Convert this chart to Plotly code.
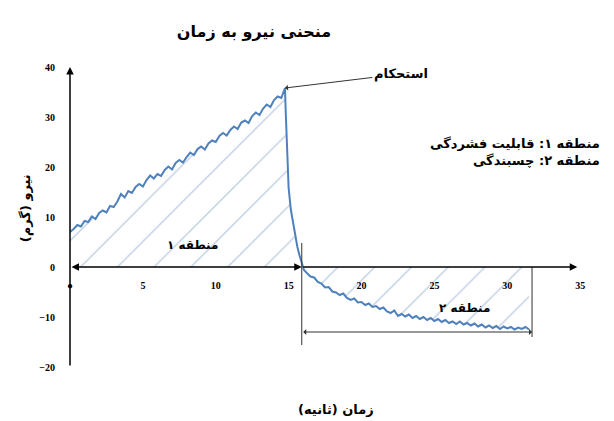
import plotly.graph_objects as go

# زمان (ثانیه) و نیرو (گرم)
time_s = [
    0, 0.25, 0.5, 0.75, 1.0, 1.25, 1.5, 1.75, 2.0, 2.25, 2.5, 2.75, 3.0, 3.25, 3.5, 3.75,
    4.0, 4.25, 4.5, 4.75, 5.0, 5.25, 5.5, 5.75, 6.0, 6.25, 6.5, 6.75, 7.0, 7.25, 7.5, 7.75,
    8.0, 8.25, 8.5, 8.75, 9.0, 9.25, 9.5, 9.75, 10.0, 10.25, 10.5, 10.75, 11.0, 11.25, 11.5,
    11.75, 12.0, 12.25, 12.5, 12.75, 13.0, 13.25, 13.5, 13.75, 14.0, 14.25, 14.5, 14.75,
    14.8, 14.9, 15.0, 15.15, 15.3, 15.45, 15.6, 15.75, 15.9, 16.05,
    16.25, 16.5, 16.75, 17.0, 17.25, 17.5, 17.75, 18.0, 18.25, 18.5, 18.75, 19.0, 19.25,
    19.5, 19.75, 20.0, 20.25, 20.5, 20.75, 21.0, 21.25, 21.5, 21.75, 22.0, 22.25, 22.5,
    22.75, 23.0, 23.25, 23.5, 23.75, 24.0, 24.25, 24.5, 24.75, 25.0, 25.25, 25.5, 25.75,
    26.0, 26.25, 26.5, 26.75, 27.0, 27.25, 27.5, 27.75, 28.0, 28.25, 28.5, 28.75, 29.0,
    29.25, 29.5, 29.75, 30.0, 30.25, 30.5, 30.75, 31.0, 31.25, 31.5,
]
force_g = [
    7.0, 7.6, 8.4, 8.1, 9.2, 9.0, 10.1, 9.6, 10.8, 11.3, 10.9, 12.2, 12.0, 13.1, 14.6, 13.9,
    15.2, 14.8, 16.0, 16.6, 16.1, 17.4, 18.3, 17.7, 18.6, 18.2, 19.4, 20.1, 19.5, 20.8, 21.4, 20.9,
    22.0, 22.9, 22.4, 23.6, 24.1, 23.5, 24.7, 25.3, 25.0, 26.2, 26.8, 26.3, 27.4, 28.1, 27.6,
    28.9, 29.3, 28.8, 30.2, 30.9, 30.4, 31.7, 32.5, 32.0, 33.4, 34.1, 33.8, 35.8,
    31.0, 22.0, 15.8, 11.5, 8.8, 6.0, 4.0, 2.3, 0.8, -0.6,
    -1.2, -1.9, -2.1, -3.0, -3.3, -4.1, -4.0, -4.9, -5.1, -5.6, -5.3, -6.2, -6.6,
    -6.3, -7.1, -7.0, -7.6, -7.3, -8.0, -7.8, -8.4, -8.1, -8.9, -9.2, -8.7, -9.8,
    -9.4, -9.9, -9.5, -10.2, -9.8, -10.4, -10.0, -10.6, -10.2, -10.8, -10.4, -11.0, -10.6,
    -11.2, -10.9, -11.4, -10.9, -11.5, -11.2, -11.7, -11.3, -11.9, -11.5, -12.1, -11.7, -12.2,
    -11.8, -12.4, -11.9, -12.3, -12.0, -12.5, -12.1, -12.4, -12.0, -12.5,
]

x_ticks = [0, 5, 10, 15, 20, 25, 30, 35]
x_tick_text = ["●", "5", "10", "15", "20", "25", "30", "35"]
y_ticks = [-20, -10, 0, 10, 20, 30, 40]

peak_t, peak_f = 14.75, 35.8
split_t = 15.9      # مرز منطقه ۱ و ۲
end_t = 31.7        # پایان منطقه ۲
axis_end_t = 34.8

blue = "#4f81bd"
fa = "DejaVu Sans"
num_font = dict(family="Liberation Serif", size=10, color="black", weight="bold")

fig = go.Figure()
fig.add_trace(go.Scatter(
    x=time_s, y=force_g, mode="lines",
    line=dict(color=blue, width=2),
    fill="tozeroy", fillcolor="rgba(255,255,255,0)",
    fillpattern=dict(shape="/", fgcolor="#7898c6", bgcolor="rgba(255,255,255,0)",
                     size=26, solidity=0.05),
    hoverinfo="skip",
))

ymin, ymax = -21, 42
fig.update_xaxes(range=[0, 36.5], tickvals=x_ticks, ticktext=x_tick_text,
                 showgrid=False, zeroline=False, showline=False,
                 ticks="outside", ticklen=9, tickcolor="rgba(0,0,0,0)",
                 tickfont=num_font, anchor="free", position=(0 - ymin) / (ymax - ymin))
fig.update_yaxes(range=[ymin, ymax], tickvals=y_ticks,
                 showgrid=False, zeroline=False, showline=False,
                 ticks="outside", ticklen=12, tickcolor="rgba(0,0,0,0)",
                 tickfont=num_font)

arrow = dict(text="", showarrow=True, xref="x", yref="y", axref="x", ayref="y",
             arrowcolor="black", arrowwidth=1.5, arrowsize=1, arrowhead=2)
# محور عمودی
fig.add_annotation(x=0, y=40, ax=0, ay=-20, **arrow)
# محور افقی
fig.add_annotation(x=axis_end_t, y=0, ax=split_t, ay=0, **arrow)
fig.add_annotation(x=split_t, y=0, ax=0, ay=0, arrowside="end+start", **arrow)
fig.add_annotation(x=end_t, y=-13, ax=split_t, ay=-13, arrowside="end+start",
                   **{**arrow, "arrowwidth": 1, "arrowhead": 1, "arrowcolor": "#333"})

fig.add_shape(type="line", x0=split_t, x1=split_t, y0=4.8, y1=-15.6,
              line=dict(color="#333", width=1))
fig.add_shape(type="line", x0=end_t, x1=end_t, y0=0, y1=-14,
              line=dict(color="#333", width=1))

# استحکام
fig.add_annotation(x=peak_t, y=peak_f, ax=22.7, ay=38.6, axref="x", ayref="y",
                   text="<b>استحکام</b>", showarrow=True, arrowhead=1, arrowwidth=1,
                   arrowcolor="#333", font=dict(family=fa, size=13, color="black"))

fig.add_annotation(x=8.4, y=4.4, text="<b>منطقه ۱</b>", showarrow=False,
                   font=dict(family=fa, size=12, color="black"))
fig.add_annotation(x=27.1, y=-8.2, text="<b>منطقه ۲</b>", showarrow=False,
                   font=dict(family=fa, size=12, color="black"))
fig.add_annotation(xref="paper", x=1.0, y=23.1, xanchor="right", showarrow=False,
                   align="right",
                   text="<b>منطقه ۱: قابلیت فشردگی</b><br><b>منطقه ۲: چسبندگی</b>",
                   font=dict(family=fa, size=13, color="black"))

fig.add_annotation(xref="paper", yref="paper", x=(336 - 70) / 532, y=-0.15,
                   text="<b>زمان (ثانیه)</b>", showarrow=False,
                   font=dict(family=fa, size=13, color="black"))
fig.add_annotation(xref="paper", yref="paper", x=(16 - 70) / 532, y=0.52, textangle=-90,
                   text="<b>نیرو (گرم)</b>", showarrow=False,
                   font=dict(family=fa, size=13, color="black"))

# the page adds an 8 px body margin, so the figure is 8 px smaller
fig.update_layout(
    title=dict(text="<b>منحنی نیرو به زمان</b>", x=246 / 606, y=1 - 23 / 413,
               xanchor="center", yanchor="middle",
               font=dict(family=fa, size=16, color="black")),
    width=606, height=413,
    margin=dict(l=62, r=12, t=49, b=49),
    paper_bgcolor="white", plot_bgcolor="white",
    showlegend=False,
)

fig.write_html("out.html")
